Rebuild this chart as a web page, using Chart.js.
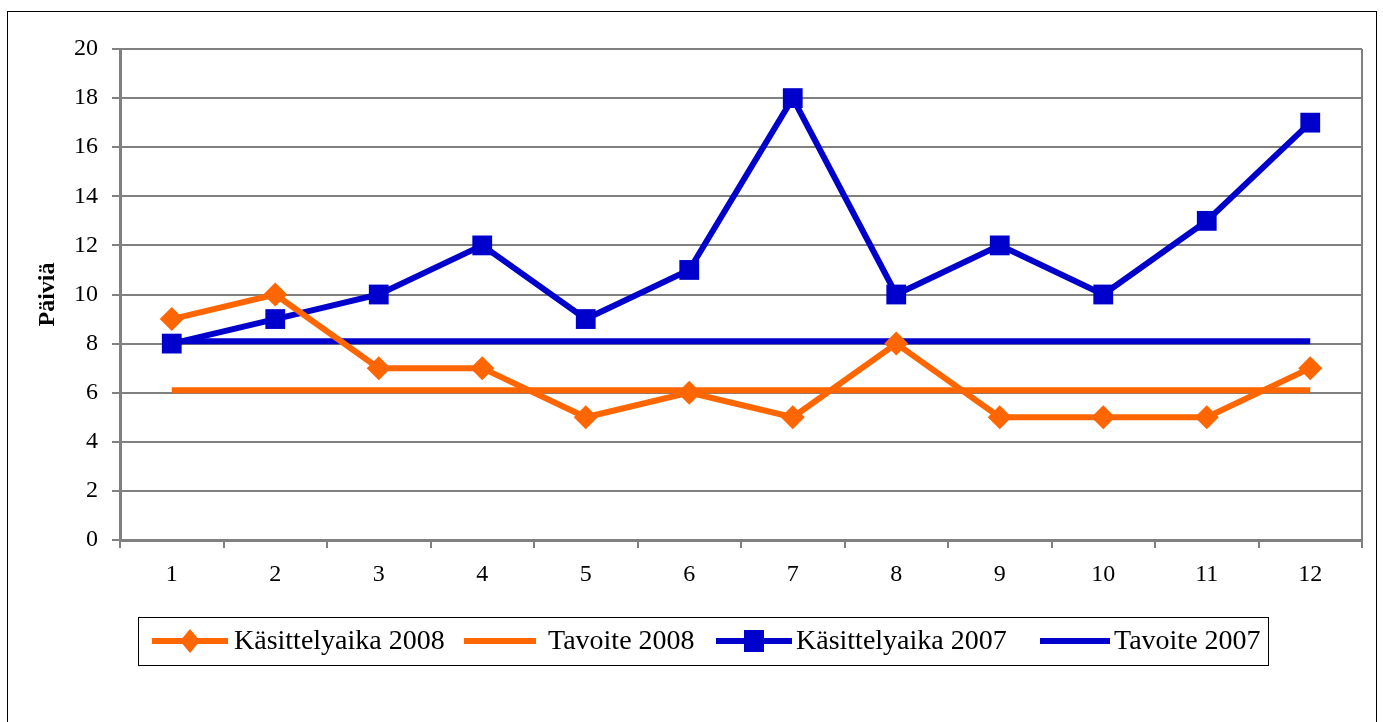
<!DOCTYPE html>
<html><head><meta charset="utf-8">
<script src="https://cdn.jsdelivr.net/npm/chart.js@4/dist/chart.umd.min.js"></script>
<style>html,body{margin:0;padding:0;background:#fff}#wrap{width:1383px;height:722px;position:relative}</style>
</head><body><div id="wrap"><canvas id="c" width="1383" height="722"></canvas></div>
<script>
const categories = ['1','2','3','4','5','6','7','8','9','10','11','12'];
const kasittely2008 = [9, 10, 7, 7, 5, 6, 5, 8, 5, 5, 5, 7];
const tavoite2008 = [6.1, 6.1, 6.1, 6.1, 6.1, 6.1, 6.1, 6.1, 6.1, 6.1, 6.1, 6.1];
const kasittely2007 = [8, 9, 10, 12, 9, 11, 18, 10, 12, 10, 13, 17];
const tavoite2007 = [8.1, 8.1, 8.1, 8.1, 8.1, 8.1, 8.1, 8.1, 8.1, 8.1, 8.1, 8.1];
const yTicks = [0, 2, 4, 6, 8, 10, 12, 14, 16, 18, 20];
const seriesLabels = ['Käsittelyaika 2008', 'Tavoite 2008', 'Käsittelyaika 2007', 'Tavoite 2007'];
const yTitle = 'Päiviä';

const ORANGE = '#FF6600', BLUE = '#0000CC', GRID = '#808080';
const FONT = "'Liberation Serif', 'Times New Roman', serif";

const framePlugin = {
  id: 'frame',
  beforeDraw(chart) {
    const ctx = chart.ctx;
    ctx.save();
    ctx.fillStyle = '#fff';
    ctx.fillRect(0, 0, chart.width, chart.height);
    ctx.strokeStyle = '#000';
    ctx.lineWidth = 1;
    ctx.strokeRect(7.5, 11.5, 1369, 740);
    ctx.restore();
  },
  beforeDatasetsDraw(chart) {
    const a = chart.chartArea, ctx = chart.ctx;
    ctx.save();
    ctx.strokeStyle = GRID;
    ctx.lineWidth = 2;
    ctx.beginPath();
    ctx.moveTo(a.right, a.top); ctx.lineTo(a.right, a.bottom);
    ctx.stroke();
    ctx.restore();
  },
  afterDraw(chart) {
    const ctx = chart.ctx;
    ctx.save();
    ctx.strokeStyle = '#000';
    ctx.lineWidth = 1;
    ctx.strokeRect(138.5, 617.5, 1130, 48);
    const cy = 641;
    const items = [
      {x0: 152, x1: 228, tx: 234, color: ORANGE, marker: 'diamond'},
      {x0: 464, x1: 536, tx: 548, color: ORANGE, marker: null},
      {x0: 716, x1: 792, tx: 796, color: BLUE, marker: 'square'},
      {x0: 1040, x1: 1110, tx: 1114, color: BLUE, marker: null}
    ];
    ctx.font = "28px " + FONT;
    ctx.textBaseline = 'middle';
    ctx.textAlign = 'left';
    items.forEach((it, i) => {
      ctx.strokeStyle = it.color;
      ctx.lineWidth = 6;
      ctx.beginPath();
      ctx.moveTo(it.x0, cy); ctx.lineTo(it.x1, cy); ctx.stroke();
      const mx = (it.x0 + it.x1) / 2;
      ctx.fillStyle = it.color;
      if (it.marker === 'diamond') {
        ctx.beginPath();
        ctx.moveTo(mx, cy - 12); ctx.lineTo(mx + 10, cy); ctx.lineTo(mx, cy + 12); ctx.lineTo(mx - 10, cy); ctx.closePath(); ctx.fill();
      } else if (it.marker === 'square') {
        ctx.fillRect(mx - 10, cy - 11, 20, 22);
      }
      ctx.fillStyle = '#000';
      ctx.fillText(seriesLabels[i], it.tx, cy + 1);
    });
    ctx.restore();
  }
};

new Chart(document.getElementById('c'), {
  type: 'line',
  data: {
    labels: categories,
    datasets: [
      {label: seriesLabels[0], data: kasittely2008, borderColor: ORANGE, backgroundColor: ORANGE, borderWidth: 6,
       pointStyle: 'rectRot', pointRadius: 12, pointBorderWidth: 0, tension: 0, order: 1},
      {label: seriesLabels[1], data: tavoite2008, borderColor: ORANGE, backgroundColor: ORANGE, borderWidth: 6,
       pointRadius: 0, tension: 0, order: 4},
      {label: seriesLabels[2], data: kasittely2007, borderColor: BLUE, backgroundColor: BLUE, borderWidth: 6,
       pointStyle: 'rect', pointRadius: 14, pointBorderWidth: 0, tension: 0, order: 2},
      {label: seriesLabels[3], data: tavoite2007, borderColor: BLUE, backgroundColor: BLUE, borderWidth: 6,
       pointRadius: 0, tension: 0, order: 3}
    ]
  },
  options: {
    responsive: false,
    animation: false,
    events: [],
    layout: {padding: {left: 25, top: 49, right: 21, bottom: 0}},
    plugins: {legend: {display: false}, tooltip: {enabled: false}},
    scales: {
      x: {
        offset: true,
        grid: {offset: true, drawOnChartArea: false, drawTicks: true, tickLength: 8, color: GRID, lineWidth: 2},
        border: {display: true, color: GRID, width: 3},
        ticks: {color: '#000', font: {family: FONT, size: 24}, padding: 12, maxRotation: 0},
        afterFit(s) { s.height = 182; }
      },
      y: {
        min: 0, max: 20,
        afterBuildTicks(s) { s.ticks = yTicks.map(v => ({value: v})); },
        grid: {color: GRID, lineWidth: 2, tickLength: 8, drawTicks: true},
        border: {display: true, color: GRID, width: 3},
        ticks: {color: '#000', font: {family: FONT, size: 24}, padding: 14},
        title: {display: true, text: yTitle, color: '#000', font: {family: FONT, size: 24, weight: 'bold'}, padding: {top: 8, bottom: 0}},
        afterFit(s) { s.width = 95; }
      }
    }
  },
  plugins: [framePlugin]
});
</script>
</body></html>
